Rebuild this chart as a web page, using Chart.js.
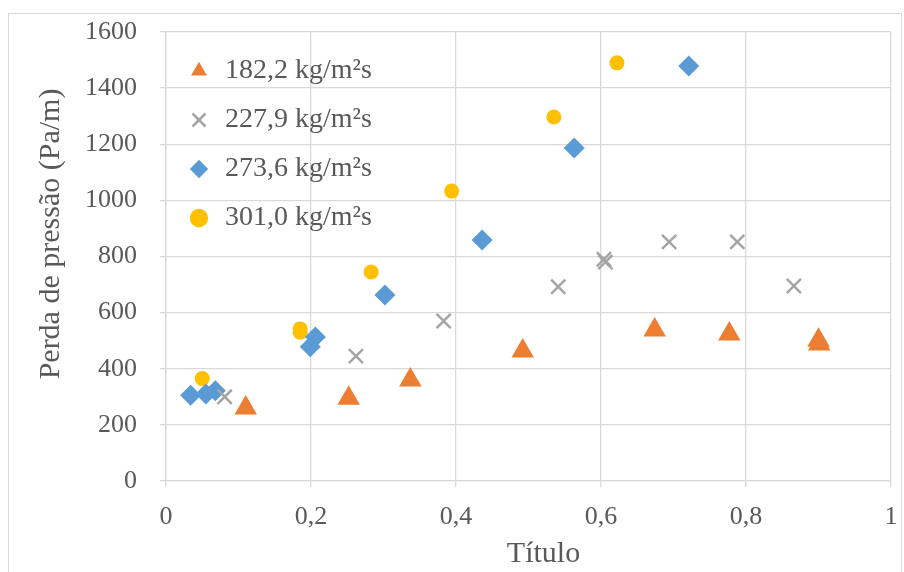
<!DOCTYPE html>
<html>
<head>
<meta charset="utf-8">
<script src="https://cdn.jsdelivr.net/npm/chart.js@4.4.1/dist/chart.umd.min.js"></script>
<style>
  body { margin: 0; background: #fff; }
  #wrap { position: relative; width: 904px; height: 572px; overflow: hidden; }
  #frame { position: absolute; left: 8px; top: 13px; width: 892px; height: 600px; border: 1px solid #d9d9d9; }
  canvas { position: absolute; left: 0; top: 0; }
</style>
</head>
<body>
<div id="wrap">
  <div id="frame"></div>
  <canvas id="myScatter" width="904" height="572"></canvas>
</div>
<script>
// series names (mass flux)
var seriesNames = ['182,2 kg/m²s', '227,9 kg/m²s', '273,6 kg/m²s', '301,0 kg/m²s'];

// x = título (vapour quality), y = perda de pressão (Pa/m)
var x182 = [0.110, 0.252, 0.337, 0.492, 0.674, 0.777, 0.900, 0.901];
var y182 = [260, 295, 360, 463, 538, 524, 502, 488];

var x227 = [0.081, 0.262, 0.383, 0.541, 0.604, 0.606, 0.694, 0.788, 0.866];
var y227 = [300, 445, 570, 692, 790, 780, 852, 852, 695];

var x273 = [0.034, 0.055, 0.068, 0.199, 0.206, 0.302, 0.436, 0.563, 0.721];
var y273 = [306, 310, 322, 478, 513, 663, 859, 1187, 1479];

var x301 = [0.050, 0.185, 0.185, 0.283, 0.394, 0.535, 0.622];
var y301 = [365, 542, 530, 745, 1033, 1297, 1490];

var xTickLabels = ['0', '0,2', '0,4', '0,6', '0,8', '1'];
var yTickLabels = ['0', '200', '400', '600', '800', '1000', '1200', '1400', '1600'];

function pts(xs, ys) {
    var out = [];
    for (var i = 0; i < xs.length; i++) {
        out.push({x: xs[i], y: ys[i]});
    }
    return out;
}

var textColor = '#595959';
var gridColor = '#d9d9d9';
var fontFam = '"Liberation Serif", "Times New Roman", serif';

var dataObj = {
    datasets: [
        {
            label: seriesNames[0],
            data: pts(x182, y182),
            pointStyle: 'triangle',
            pointRadius: 13,
            backgroundColor: '#ED7D31',
            borderColor: '#ED7D31',
            borderWidth: 0
        }, {
            label: seriesNames[1],
            data: pts(x227, y227),
            pointStyle: 'crossRot',
            pointRadius: 10,
            backgroundColor: '#A5A5A5',
            borderColor: '#A5A5A5',
            borderWidth: 2.5
        }, {
            label: seriesNames[2],
            data: pts(x273, y273),
            pointStyle: 'rectRot',
            pointRadius: 10.5,
            backgroundColor: '#5B9BD5',
            borderColor: '#5B9BD5',
            borderWidth: 0
        }, {
            label: seriesNames[3],
            data: pts(x301, y301),
            pointStyle: 'circle',
            pointRadius: 7.5,
            backgroundColor: '#FFC000',
            borderColor: '#FFC000',
            borderWidth: 0
        }
    ]
};

var optionsObj = {
    responsive: false,
    animation: false,
    layout: {
        padding: {left: 0, top: 32, right: 13, bottom: 0}
    },
    plugins: {
        tooltip: {enabled: false},
        legend: {
            position: 'chartArea',
            align: 'start',
            // empty title only pushes the rows down inside the plot
            title: {display: true, text: '', font: {size: 10}, padding: {top: 24, bottom: 0}},
            labels: {
                usePointStyle: true,
                boxWidth: 24,
                boxHeight: 13,
                padding: 21,
                color: textColor,
                font: {family: fontFam, size: 28}
            }
        }
    },
    scales: {
        x: {
            type: 'linear',
            min: 0,
            max: 1,
            afterFit: function (scale) {
                scale.height = 91;
                scale.paddingLeft = 0;
                scale.paddingRight = 0;
            },
            ticks: {
                stepSize: 0.2,
                padding: 15,
                maxRotation: 0,
                color: textColor,
                font: {family: fontFam, size: 26},
                callback: function (value, index) { return xTickLabels[index]; }
            },
            grid: {color: gridColor, tickColor: gridColor, tickLength: 6, lineWidth: 1.3},
            border: {color: gridColor, width: 1.3},
            title: {
                display: true,
                text: '    Título',
                color: textColor,
                font: {family: fontFam, size: 30},
                padding: {top: 2, bottom: 0}
            }
        },
        y: {
            type: 'linear',
            min: 0,
            max: 1600,
            afterFit: function (scale) {
                scale.width = 166;
                scale.paddingTop = 0;
                scale.paddingBottom = 0;
            },
            ticks: {
                stepSize: 200,
                padding: 23,
                color: textColor,
                font: {family: fontFam, size: 26},
                callback: function (value, index) { return yTickLabels[index]; }
            },
            grid: {color: gridColor, tickColor: gridColor, tickLength: 6, lineWidth: 1.3},
            border: {color: gridColor, width: 1.3},
            title: {
                display: true,
                text: '      Perda de pressão (Pa/m)',
                color: textColor,
                font: {family: fontFam, size: 30},
                padding: {top: 33, bottom: 0}
            }
        }
    }
};

new Chart(document.getElementById('myScatter'), {
    type: 'scatter',
    data: dataObj,
    options: optionsObj
});
</script>
</body>
</html>
